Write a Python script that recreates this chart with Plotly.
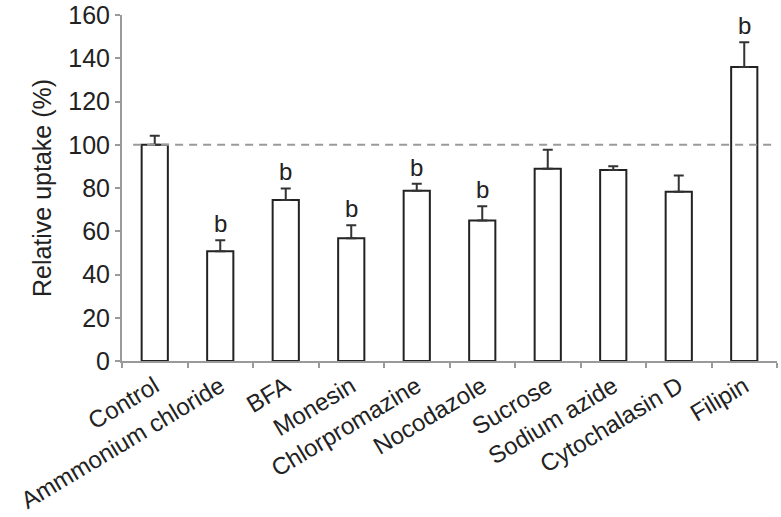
import plotly.graph_objects as go

treatments = ["Control", "Ammmonium chloride", "BFA", "Monesin", "Chlorpromazine",
              "Nocodazole", "Sucrose", "Sodium azide", "Cytochalasin D", "Filipin"]
uptake = [100, 50.7, 74.5, 56.8, 78.7, 65.0, 88.9, 88.3, 78.3, 136.0]
sem = [4.2, 5.1, 5.3, 6.0, 3.3, 6.6, 8.8, 1.8, 7.5, 11.4]
signif = ["", "b", "b", "b", "b", "b", "", "", "", "b"]
y_ticks = [0, 20, 40, 60, 80, 100, 120, 140, 160]

FONT = "Liberation Sans, Arial, sans-serif"
AXIS_GREY = "#9a9a9a"

fig = go.Figure()
fig.add_trace(go.Bar(
    x=treatments, y=uptake, width=0.4,
    marker=dict(color="white", line=dict(color="#222222", width=2)),
    error_y=dict(type="data", symmetric=False, array=sem, arrayminus=[0] * len(sem),
                 color="#333333", thickness=2, width=5),
))

# significance letters above the error bars
for name, val, err, lab in zip(treatments, uptake, sem, signif):
    if lab:
        fig.add_annotation(x=name, y=val + err, text=lab, showarrow=False,
                           yanchor="bottom", yshift=1,
                           font=dict(family=FONT, size=24, color="#222222"))

# reference line at 100 %
fig.add_shape(type="line", xref="paper", yref="y", x0=0.017, x1=1, y0=100, y1=100,
              line=dict(color=AXIS_GREY, width=2, dash="8px,6px"))

fig.update_layout(
    width=781, height=517,
    margin=dict(l=122, r=4, t=15, b=156, autoexpand=False),
    plot_bgcolor="white", paper_bgcolor="white",
    showlegend=False,
    font=dict(family=FONT, color="#222222"),
)
fig.update_xaxes(
    type="category", tickson="boundaries", tickangle=-31, automargin=False,
    showline=True, linecolor=AXIS_GREY, linewidth=2,
    ticks="outside", ticklen=5, tickcolor=AXIS_GREY, tickwidth=2,
    tickfont=dict(size=24, family=FONT, color="#222222"),
    ticklabeloverflow="allow",
    showgrid=False, range=[-0.5, 9.5],
)
fig.update_yaxes(
    range=[0, 160], tickmode="array", tickvals=y_ticks, automargin=False,
    showline=True, linecolor=AXIS_GREY, linewidth=2,
    ticks="outside", ticklen=5, tickcolor=AXIS_GREY, tickwidth=2,
    tickfont=dict(size=25, family=FONT, color="#222222"),
    ticklabeloverflow="allow",
    showgrid=False, zeroline=False,
    title=dict(text="Relative uptake (%)", font=dict(size=25, family=FONT, color="#222222"),
               standoff=10),
)

fig.write_html("out.html", config={"displayModeBar": False},
               post_script="document.body.style.margin='0';")
